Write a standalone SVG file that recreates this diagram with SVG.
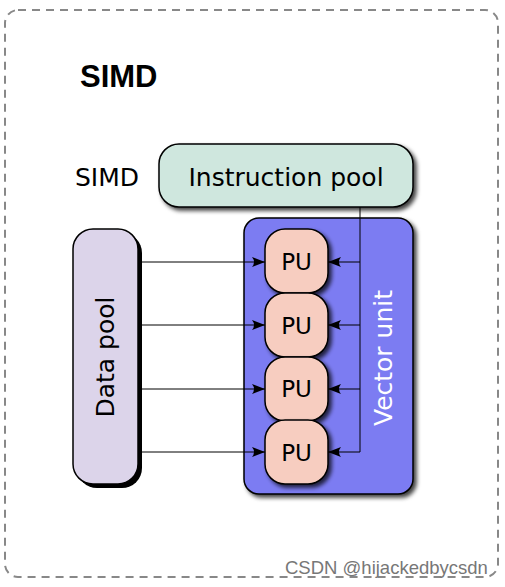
<svg xmlns="http://www.w3.org/2000/svg" width="505" height="587" viewBox="0 0 505 587">
<style>
.lbl{font-family:"DejaVu Sans",sans-serif;font-size:25px;fill:#000;}
.pu{font-family:"DejaVu Sans",sans-serif;font-size:23px;fill:#000;text-anchor:middle;}
.box{stroke:#000;stroke-width:1.5;}
.conn{stroke:#000;stroke-width:1;fill:none;}
</style>
<defs>
<filter id="sh" x="-20%" y="-20%" width="150%" height="150%">
<feDropShadow dx="3" dy="3" stdDeviation="2.2" flood-color="#000" flood-opacity="0.75"/>
</filter>
<marker id="ah" viewBox="0 0 14 10" refX="13" refY="5" markerWidth="14" markerHeight="10" markerUnits="userSpaceOnUse" orient="auto">
<path d="M13,5 L0,0 Q4,5 0,10 Z" fill="#000"/>
</marker>
</defs>
<rect x="5" y="10" width="493" height="567" rx="13" fill="#fff" stroke="#888" stroke-width="2" stroke-dasharray="8,6"/>
<text x="80" y="87" font-family="Liberation Sans,Arial,sans-serif" font-size="31" font-weight="bold" fill="#000">SIMD</text>
<text class="lbl" x="75" y="186">SIMD</text>
<g id="instruction-pool">
<rect class="box" x="159" y="144" width="254" height="63" rx="20" fill="#cfe7de" filter="url(#sh)"/>
<text class="lbl" x="286" y="186" text-anchor="middle">Instruction pool</text>
</g>
<g id="vector-unit">
<rect class="box" x="244" y="218" width="169" height="276" rx="15" fill="#7b7bf2" filter="url(#sh)"/>
<text class="lbl" transform="translate(392,358) rotate(-90)" text-anchor="middle" style="fill:#fff">Vector unit</text>
</g>
<g id="data-pool">
<rect x="77" y="233" width="65" height="255" rx="20" fill="#000"/>
<rect class="box" x="73" y="229" width="65" height="255" rx="20" fill="#dcd4ea"/>
<text class="lbl" transform="translate(114,357) rotate(-90)" text-anchor="middle">Data pool</text>
</g>
<g id="connectors">
<line class="conn" x1="138" y1="262" x2="265" y2="262" marker-end="url(#ah)"/>
<line class="conn" x1="138" y1="325" x2="265" y2="325" marker-end="url(#ah)"/>
<line class="conn" x1="138" y1="389" x2="265" y2="389" marker-end="url(#ah)"/>
<line class="conn" x1="138" y1="452" x2="265" y2="452" marker-end="url(#ah)"/>
<line class="conn" x1="360" y1="207" x2="360" y2="452"/>
<line class="conn" x1="360" y1="262" x2="328" y2="262" marker-end="url(#ah)"/>
<line class="conn" x1="360" y1="325" x2="328" y2="325" marker-end="url(#ah)"/>
<line class="conn" x1="360" y1="389" x2="328" y2="389" marker-end="url(#ah)"/>
<line class="conn" x1="360" y1="452" x2="328" y2="452" marker-end="url(#ah)"/>
</g>
<g id="pu-1">
<rect class="box" x="265" y="229" width="63" height="64" rx="20" fill="#f7cdc0" filter="url(#sh)"/>
<text class="pu" x="296.5" y="270">PU</text>
</g>
<g id="pu-2">
<rect class="box" x="265" y="293" width="63" height="64" rx="20" fill="#f7cdc0" filter="url(#sh)"/>
<text class="pu" x="296.5" y="334">PU</text>
</g>
<g id="pu-3">
<rect class="box" x="265" y="357" width="63" height="64" rx="20" fill="#f7cdc0" filter="url(#sh)"/>
<text class="pu" x="296.5" y="397">PU</text>
</g>
<g id="pu-4">
<rect class="box" x="265" y="420" width="63" height="64" rx="20" fill="#f7cdc0" filter="url(#sh)"/>
<text class="pu" x="296.5" y="461">PU</text>
</g>
<text x="285" y="574" font-family="Liberation Sans,Arial,sans-serif" font-size="18.5" fill="#777">CSDN @hijackedbycsdn</text>
</svg>
